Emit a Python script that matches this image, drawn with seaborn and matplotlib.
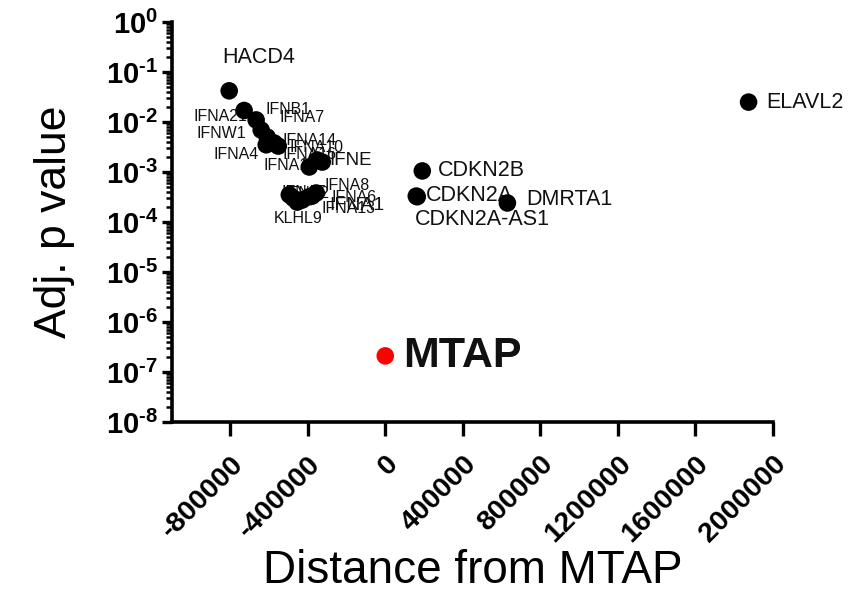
import matplotlib
matplotlib.use("Agg")
import matplotlib.pyplot as plt
import numpy as np
import pandas as pd
import seaborn as sns
from matplotlib.ticker import LogLocator, NullFormatter

# Genes around the MTAP locus (9p21): distance from MTAP (bp) and adjusted p value
genes = ["HACD4", "IFNA21", "IFNB1", "IFNA7", "IFNW1", "IFNA4", "IFNA14", "IFNA10",
         "IFNA17", "IFNA16", "IFNE",
         "IFNA5", "KLHL9", "IFNA6", "IFNA13", "IFNA2", "IFNA8", "IFNA1",
         "MTAP", "CDKN2A", "CDKN2A-AS1", "CDKN2B", "DMRTA1", "ELAVL2"]
distance_bp = [-805000, -728000, -666000, -640000, -609000, -614000, -573000, -552000,
               -392000, -351000, -325000,
               -495000, -475000, -454000, -428000, -392000, -377000, -356000,
               0, 160000, 165000, 191000, 630000, 1874000]
adj_p = [4.2e-2, 1.7e-2, 1.1e-2, 6.9e-3, 5.0e-3, 3.5e-3, 3.8e-3, 3.3e-3,
         1.26e-3, 1.74e-3, 1.58e-3,
         3.5e-4, 3.0e-4, 2.5e-4, 2.75e-4, 3.2e-4, 3.3e-4, 3.8e-4,
         2.1e-7, 3.3e-4, 3.2e-4, 1.05e-3, 2.4e-4, 2.5e-2]

x_ticks = [-800000, -400000, 0, 400000, 800000, 1200000, 1600000, 2000000]
y_exponents = list(range(0, -9, -1))

# label placement: (dx px, dy px, ha, fontsize, weight)
label_layout = {
    "HACD4": (29, 33, "center", 15.5, "normal"),
    "IFNA21": (3, -6, "right", 11.5, "normal"),
    "IFNB1": (9, 10, "left", 11.5, "normal"),
    "IFNA7": (18, 13, "left", 11.5, "normal"),
    "IFNW1": (-21, 4, "right", 11.5, "normal"),
    "IFNA4": (-7, -10, "right", 11.5, "normal"),
    "IFNA14": (8, 3, "left", 11.5, "normal"),
    "IFNA10": (11, -1, "left", 11.5, "normal"),
    "IFNA17": (8, 1, "right", 11.5, "normal"),
    "IFNA16": (-8, 5, "center", 11.5, "normal"),
    "IFNE": (7, 2, "left", 13.5, "normal"),
    "IFNA5": (-8, 2, "left", 11.5, "normal"),
    "KLHL9": (-19, -20, "left", 11.5, "normal"),
    "IFNA6": (34, 5, "left", 11.5, "normal"),
    "IFNA13": (19, -8, "left", 11.5, "normal"),
    "IFNA2": (-25, 3, "left", 11.5, "normal"),
    "IFNA8": (12, 11, "left", 11.5, "normal"),
    "IFNA1": (13, -12, "left", 14, "normal"),
    "MTAP": (18, 0, "left", 31, "bold"),
    "CDKN2A": (10, 1, "left", 15.5, "normal"),
    "CDKN2A-AS1": (-2, -23, "left", 15.5, "normal"),
    "CDKN2B": (16, 0, "left", 15.5, "normal"),
    "DMRTA1": (19, 3, "left", 15.5, "normal"),
    "ELAVL2": (18, 0, "left", 15.5, "normal"),
}

df = pd.DataFrame({"gene": genes, "distance": distance_bp, "p": adj_p})
df["group"] = np.where(df["gene"] == "MTAP", "MTAP", "other")

sns.set_style("ticks")
plt.rcParams["font.family"] = ["Liberation Sans", "DejaVu Sans"]
plt.rcParams["mathtext.fontset"] = "custom"
plt.rcParams["mathtext.rm"] = "Liberation Sans"
plt.rcParams["mathtext.bf"] = "Liberation Sans:bold"
plt.rcParams["mathtext.it"] = "Liberation Sans:italic"
plt.rcParams["text.color"] = "black"
plt.rcParams["axes.labelcolor"] = "black"

fig = plt.figure(figsize=(8.68, 5.96), dpi=100)
ax = fig.add_axes([172 / 868, 1 - 422 / 596, (773 - 172) / 868, 400 / 596])

sns.scatterplot(data=df, x="distance", y="p", hue="group",
                palette={"other": "black", "MTAP": "red"},
                s=160, edgecolor="none", legend=False, ax=ax, zorder=3)

ax.set_yscale("log")
ax.set_ylim(1e-8, 1)
ax.set_xlim(-1100000, 2000000)

for _, row in df.iterrows():
    dx, dy, ha, fs, fw = label_layout[row["gene"]]
    ax.annotate(row["gene"], (row["distance"], row["p"]), xytext=(dx, dy),
                textcoords="offset pixels", ha=ha, va="center",
                fontsize=fs, fontweight=fw, color="#111111", zorder=2)

ax.set_yticks([10.0 ** e for e in y_exponents])
ax.set_yticklabels([r"$\mathbf{10^{%s}}$" % (str(e).replace("-", "\u2010"))
                    for e in y_exponents])
ax.yaxis.set_minor_locator(LogLocator(base=10, subs=np.arange(2, 10), numticks=20))
ax.yaxis.set_minor_formatter(NullFormatter())

ax.set_xticks(x_ticks)
ax.set_xticklabels([str(v) for v in x_ticks], rotation=45, ha="right",
                   rotation_mode="anchor", fontweight="bold")

ax.tick_params(axis="y", which="major", labelsize=21, width=2.4, length=7,
               color="black", labelcolor="black", pad=3)
ax.tick_params(axis="x", which="major", labelsize=20.5, width=2.4, length=10,
               color="black", labelcolor="black", pad=11)
ax.tick_params(axis="y", which="minor", width=1.8, length=4, color="black")

for side in ["top", "right"]:
    ax.spines[side].set_visible(False)
for side in ["left", "bottom"]:
    ax.spines[side].set_linewidth(2.6)
    ax.spines[side].set_color("black")

ax.set_xlabel("Distance from MTAP", fontsize=33, labelpad=1)
ax.set_ylabel("Adj. p value", fontsize=32, labelpad=22)

fig.savefig("out.png", dpi=100)
